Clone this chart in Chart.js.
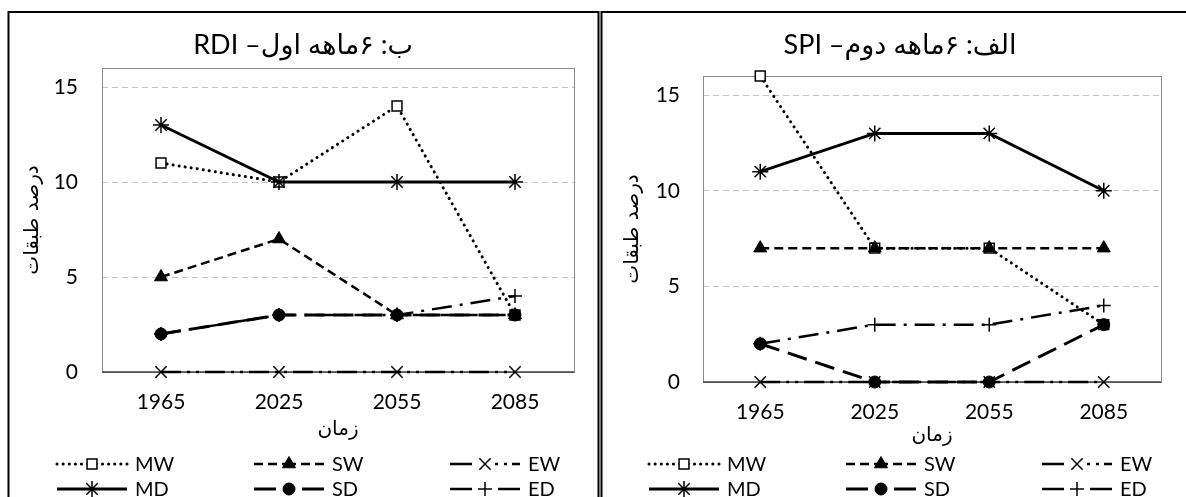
<!DOCTYPE html>
<html>
<head>
<meta charset="utf-8">
<script src="https://cdn.jsdelivr.net/npm/chart.js@4.4.1/dist/chart.umd.min.js"></script>
<style>
  html, body { margin: 0; padding: 0; background: #fff; }
  #wrap { position: relative; width: 1186px; height: 497px; overflow: hidden; }
  canvas { position: absolute; top: 0; }
  #rdi { left: 0; }
  #spi { left: 600px; }
</style>
</head>
<body>
<div id="wrap">
  <canvas id="rdi" width="600" height="497"></canvas>
  <canvas id="spi" width="586" height="497"></canvas>
</div>
<script>
// Periods on the horizontal axis and the value ticks on the vertical axis
const categories = ['1965', '2025', '2055', '2085'];
const yTickValues = [0, 5, 10, 15];
const seriesNames = ['MW', 'SW', 'EW', 'MD', 'SD', 'ED'];

// RDI, first six months (درصد طبقات)
const rdiMW = [11, 10, 14, 3];
const rdiSW = [5, 7, 3, 3];
const rdiEW = [0, 0, 0, 0];
const rdiMD = [13, 10, 10, 10];
const rdiSD = [2, 3, 3, 3];
const rdiED = [2, 3, 3, 4];

// SPI, second six months
const spiMW = [16, 7, 7, 3];
const spiSW = [7, 7, 7, 7];
const spiEW = [0, 0, 0, 0];
const spiMD = [11, 13, 13, 10];
const spiSD = [2, 0, 0, 3];
const spiED = [2, 3, 3, 4];

const FONT_LATIN = "Lato, 'DejaVu Sans', sans-serif";
const FONT_FA = "'DejaVu Sans', Lato, sans-serif";

// Line and marker look of each class; legendDash/mirror shape the short legend sample
const seriesStyle = {
  MW: { dash: [0.1, 6], cap: 'round', width: 3, point: 'rect', radius: 7, pw: 1.5, fill: '#fff',
        legendDash: [0.1, 6], mirror: true },
  SW: { dash: [9, 5], cap: 'butt', width: 2.5, point: 'triangle', radius: 7.5, pw: 1, fill: '#000',
        legendDash: [9, 5], mirror: true },
  EW: { dash: [20, 6, 3, 6, 3, 6], cap: 'butt', width: 2.5, point: 'crossRot', radius: 8, pw: 1.5, fill: '#000',
        legendDash: [22, 23, 3, 6, 3, 5, 8, 100], mirror: false },
  MD: { dash: [], cap: 'butt', width: 3, point: 'star', radius: 8, pw: 1.5, fill: '#000',
        legendDash: [], mirror: false },
  SD: { dash: [20, 9], cap: 'butt', width: 3, point: 'circle', radius: 6, pw: 1, fill: '#000',
        legendDash: [22, 20], mirror: true },
  ED: { dash: [20, 8, 3, 8], cap: 'butt', width: 2.5, point: 'cross', radius: 7, pw: 1.5, fill: '#000',
        legendDash: [22, 20], mirror: true }
};

function makeDatasets(values) {
  return seriesNames.map((name, i) => {
    const s = seriesStyle[name];
    return {
      label: name,
      data: values[i],
      order: seriesNames.length - 1 - i,
      borderColor: '#000',
      borderWidth: s.width,
      borderDash: s.dash,
      borderCapStyle: s.cap,
      tension: 0,
      fill: false,
      clip: false,
      pointStyle: s.point,
      pointRadius: s.radius,
      pointHoverRadius: s.radius,
      pointBorderWidth: s.pw,
      pointBorderColor: '#000',
      pointBackgroundColor: s.fill
    };
  });
}

function drawMarker(ctx, s, x, y) {
  ctx.save();
  ctx.setLineDash([]);
  ctx.fillStyle = s.fill;
  ctx.strokeStyle = '#000';
  ctx.lineWidth = s.pw;
  Chart.helpers.drawPoint(ctx, { pointStyle: s.point, radius: s.radius, borderWidth: s.pw, rotation: 0 }, x, y);
  ctx.restore();
}

function strokeSample(ctx, s, xa, xb, y) {
  ctx.beginPath();
  ctx.moveTo(xa, y);
  ctx.lineTo(xb, y);
  ctx.stroke();
}

// Panel frame, plot frame, titles and the two-row legend
const decor = {
  id: 'decor',
  beforeDraw(chart, args, o) {
    const ctx = chart.ctx;
    ctx.save();
    ctx.fillStyle = '#fff';
    ctx.fillRect(0, 0, chart.width, chart.height);
    ctx.strokeStyle = '#000';
    ctx.lineWidth = o.frameWidth;
    ctx.strokeRect(o.frame[0], o.frame[1], o.frame[2], o.frame[3]);
    ctx.restore();
  },
  beforeDatasetsDraw(chart, args, o) {
    const { ctx, chartArea: a } = chart;
    ctx.save();
    ctx.strokeStyle = '#8c8c8c';
    ctx.lineWidth = 1;
    ctx.strokeRect(Math.round(a.left) + 0.5, Math.round(a.top) + 0.5,
                   Math.round(a.right - a.left), Math.round(a.bottom - a.top));
    ctx.strokeStyle = '#404040';
    ctx.lineWidth = 1.5;
    ctx.beginPath();
    ctx.moveTo(a.left, a.bottom);
    ctx.lineTo(a.right, a.bottom);
    ctx.stroke();
    ctx.restore();
  },
  afterDraw(chart, args, o) {
    const { ctx, chartArea: a } = chart;
    ctx.save();
    ctx.fillStyle = '#000';
    ctx.textBaseline = 'middle';
    ctx.textAlign = 'center';
    ctx.direction = 'rtl';

    // chart title
    ctx.font = '27px ' + FONT_LATIN;
    ctx.fillText(o.title, o.titleX, o.titleY);

    // axis titles
    ctx.font = '20px ' + FONT_FA;
    ctx.fillText(o.xTitle, (a.left + a.right) / 2, o.xTitleY);
    ctx.save();
    ctx.translate(o.yTitleX, (a.top + a.bottom) / 2);
    ctx.rotate(-Math.PI / 2);
    ctx.fillText(o.yTitle, 0, 0);
    ctx.restore();

    // legend: three columns, two rows
    ctx.direction = 'ltr';
    ctx.textAlign = 'left';
    ctx.font = '20px ' + FONT_LATIN;
    const L = o.sampleLen;
    seriesNames.forEach((name, i) => {
      const s = seriesStyle[name];
      const x0 = o.legendCols[i % 3];
      const y = o.legendRows[Math.floor(i / 3)];
      ctx.save();
      ctx.strokeStyle = '#000';
      ctx.lineWidth = s.width;
      ctx.lineCap = s.cap;
      ctx.setLineDash(s.legendDash);
      if (s.mirror) {
        strokeSample(ctx, s, x0, x0 + L / 2, y);
        strokeSample(ctx, s, x0 + L, x0 + L / 2, y);
      } else {
        strokeSample(ctx, s, x0, x0 + L, y);
      }
      ctx.restore();
      drawMarker(ctx, s, x0 + L / 2, y);
      ctx.fillStyle = '#000';
      ctx.fillText(name, x0 + L + 8, y + 1);
    });
    ctx.restore();
  }
};

function buildChart(id, values, area, deco) {
  const canvas = document.getElementById(id);
  const W = canvas.width, H = canvas.height;
  const xAxisH = 40;
  return new Chart(canvas, {
    type: 'line',
    data: { labels: categories, datasets: makeDatasets(values) },
    options: {
      responsive: false,
      animation: false,
      devicePixelRatio: 1,
      events: [],
      layout: {
        padding: { left: 0, top: area.top, right: W - area.right, bottom: H - area.bottom - xAxisH }
      },
      plugins: {
        legend: { display: false },
        tooltip: { enabled: false },
        title: { display: false },
        decor: deco
      },
      scales: {
        x: {
          type: 'category',
          offset: true,
          grid: { display: false, drawTicks: false },
          border: { display: false },
          ticks: { color: '#000', padding: 18, font: { family: FONT_LATIN, size: 21 }, maxRotation: 0 },
          afterFit(scale) { scale.height = xAxisH; }
        },
        y: {
          min: 0,
          max: 16,
          grid: {
            drawTicks: false,
            lineWidth: 1,
            color: (c) => (c.tick && c.tick.value > 0 ? '#c4c4c4' : 'rgba(0,0,0,0)')
          },
          border: { display: false, dash: [6, 4] },
          ticks: { color: '#000', padding: area.tickPad, font: { family: FONT_LATIN, size: 21 } },
          afterBuildTicks(scale) { scale.ticks = yTickValues.map(v => ({ value: v })); },
          afterFit(scale) { scale.width = area.left; }
        }
      }
    },
    plugins: [decor]
  });
}

buildChart('rdi',
  [rdiMW, rdiSW, rdiEW, rdiMD, rdiSD, rdiED],
  { left: 102, top: 68, right: 574, bottom: 372, tickPad: 24 },
  {
    frame: [8.5, 12, 590, 520], frameWidth: 2,
    title: 'ب: ۶ماهه اول– RDI', titleX: 303, titleY: 45,
    xTitle: 'زمان', xTitleY: 430,
    yTitle: 'درصد طبقات', yTitleX: 33,
    legendCols: [57, 254, 450], legendRows: [464, 489], sampleLen: 70
  });

buildChart('spi',
  [spiMW, spiSW, spiEW, spiMD, spiSD, spiED],
  { left: 103, top: 76, right: 561, bottom: 382, tickPad: 23 },
  {
    frame: [1.5, 12, 620, 520], frameWidth: 2,
    title: 'الف: ۶ماهه دوم– SPI', titleX: 300, titleY: 45,
    xTitle: 'زمان', xTitleY: 436,
    yTitle: 'درصد طبقات', yTitleX: 33,
    legendCols: [49, 246, 442], legendRows: [464, 489], sampleLen: 70
  });
</script>
</body>
</html>
